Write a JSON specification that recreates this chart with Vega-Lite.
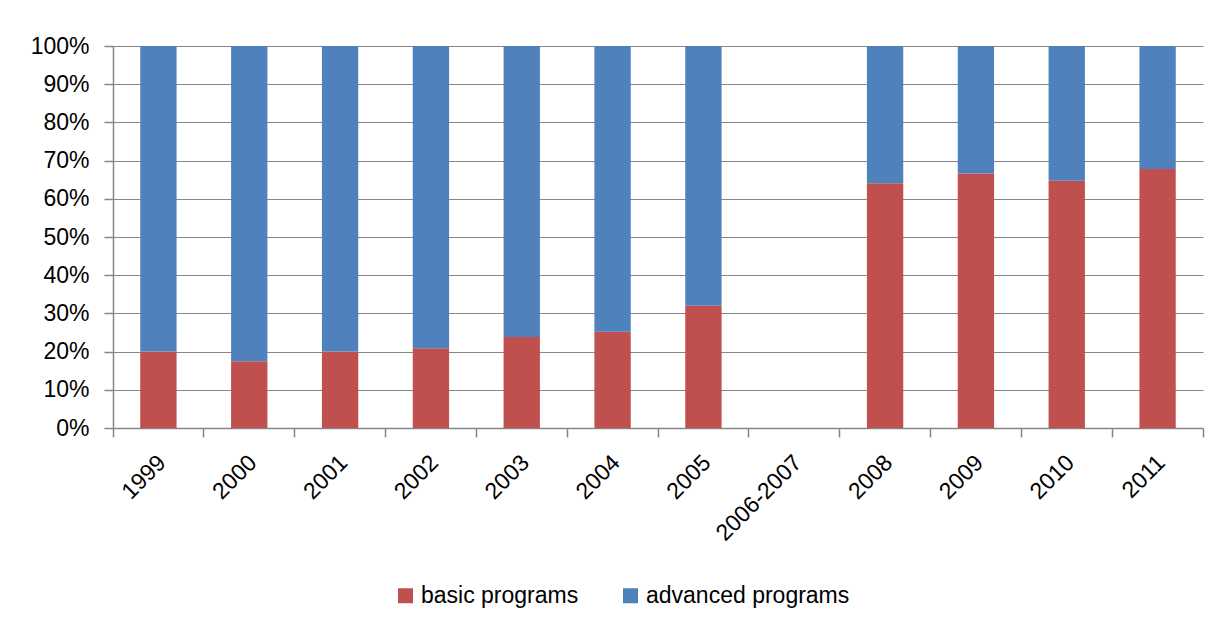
{
  "$schema": "https://vega.github.io/schema/vega-lite/v6.json",
  "autosize": "none",
  "width": 1090,
  "height": 382,
  "padding": {"left": 113, "top": 46, "right": 12, "bottom": 194},
  "background": "white",
  "config": {
    "font": "Liberation Sans",
    "view": {"stroke": null},
    "axis": {
      "labelFont": "Liberation Sans",
      "labelFontSize": 23,
      "labelColor": "#000000",
      "domainColor": "#868686",
      "tickColor": "#868686",
      "gridColor": "#868686",
      "gridOpacity": 1,
      "domainWidth": 1.5,
      "tickWidth": 1.5,
      "gridWidth": 1.2,
      "tickSize": 9
    }
  },
  "data": {
    "values": [
      {"year": "1999", "program": "basic programs", "share": 0.200},
      {"year": "1999", "program": "advanced programs", "share": 0.800},
      {"year": "2000", "program": "basic programs", "share": 0.175},
      {"year": "2000", "program": "advanced programs", "share": 0.825},
      {"year": "2001", "program": "basic programs", "share": 0.200},
      {"year": "2001", "program": "advanced programs", "share": 0.800},
      {"year": "2002", "program": "basic programs", "share": 0.209},
      {"year": "2002", "program": "advanced programs", "share": 0.791},
      {"year": "2003", "program": "basic programs", "share": 0.238},
      {"year": "2003", "program": "advanced programs", "share": 0.762},
      {"year": "2004", "program": "basic programs", "share": 0.252},
      {"year": "2004", "program": "advanced programs", "share": 0.748},
      {"year": "2005", "program": "basic programs", "share": 0.320},
      {"year": "2005", "program": "advanced programs", "share": 0.680},
      {"year": "2008", "program": "basic programs", "share": 0.641},
      {"year": "2008", "program": "advanced programs", "share": 0.359},
      {"year": "2009", "program": "basic programs", "share": 0.666},
      {"year": "2009", "program": "advanced programs", "share": 0.334},
      {"year": "2010", "program": "basic programs", "share": 0.647},
      {"year": "2010", "program": "advanced programs", "share": 0.353},
      {"year": "2011", "program": "basic programs", "share": 0.678},
      {"year": "2011", "program": "advanced programs", "share": 0.322}
    ]
  },
  "mark": {"type": "bar", "width": {"band": 0.4}},
  "encoding": {
    "x": {
      "field": "year",
      "type": "nominal",
      "scale": {
        "domain": ["1999", "2000", "2001", "2002", "2003", "2004", "2005", "2006-2007", "2008", "2009", "2010", "2011"],
        "paddingInner": 0,
        "paddingOuter": 0
      },
      "axis": {
        "title": null,
        "labelAngle": -45,
        "labelPadding": 14,
        "labelOffset": -4,
        "bandPosition": 1,
        "tickExtra": true,
        "grid": false
      }
    },
    "y": {
      "field": "share",
      "type": "quantitative",
      "stack": "zero",
      "scale": {"domain": [0, 1], "nice": false},
      "axis": {
        "title": null,
        "format": ".0%",
        "values": [0, 0.1, 0.2, 0.3, 0.4, 0.5, 0.6, 0.7, 0.8, 0.9, 1],
        "labelPadding": 15,
        "grid": true
      }
    },
    "color": {
      "field": "program",
      "type": "nominal",
      "scale": {
        "domain": ["basic programs", "advanced programs"],
        "range": ["#C0504D", "#4F81BD"]
      },
      "legend": {
        "title": null,
        "orient": "none",
        "direction": "horizontal",
        "legendX": 281,
        "legendY": 538,
        "symbolType": "square",
        "symbolSize": 225,
        "symbolStrokeWidth": 0,
        "labelFont": "Liberation Sans",
        "labelFontSize": 23,
        "labelColor": "#000000",
        "labelOffset": 4,
        "labelLimit": 0,
        "columnPadding": 40
      }
    },
    "order": {"field": "program", "sort": "descending"}
  }
}
